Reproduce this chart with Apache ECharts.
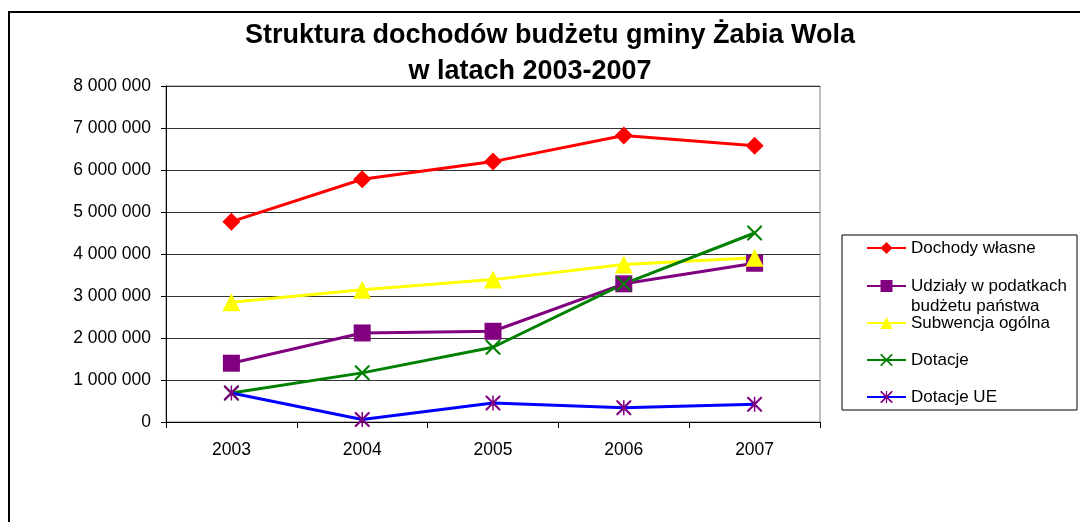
<!DOCTYPE html>
<html>
<head>
<meta charset="utf-8">
<title>Struktura dochodów budżetu gminy Żabia Wola</title>
<script src="https://cdn.jsdelivr.net/npm/echarts@6/dist/echarts.min.js"></script>
<style>
html, body { margin: 0; padding: 0; background: #fff; }
#main { width: 1080px; height: 522px; }
</style>
</head>
<body>
<div id="main"></div>
<script>
var lata = ['2003', '2004', '2005', '2006', '2007'];
var dochodyWlasne = [4770000, 5780000, 6200000, 6820000, 6580000];
var udzialy = [1400000, 2120000, 2160000, 3290000, 3780000];
var subwencja = [2850000, 3150000, 3390000, 3750000, 3910000];
var dotacje = [690000, 1170000, 1780000, 3290000, 4500000];
var dotacjeUE = [690000, 60000, 450000, 340000, 420000];

var nazwy = ['Dochody własne', 'Udziały w podatkach budżetu państwa', 'Subwencja ogólna', 'Dotacje', 'Dotacje UE'];

var FONT = 'Liberation Sans, Arial, sans-serif';
var krzyzyk = 'path://M0,0 L1,0 L10,9 L10,10 L9,10 L0,1 Z M10,0 L10,1 L1,10 L0,10 L0,9 L9,0 Z';
var gwiazdka = 'path://M0,0 L1,0 L10,9 L10,10 L9,10 L0,1 Z M10,0 L10,1 L1,10 L0,10 L0,9 L9,0 Z M4.5,0 L5.5,0 L5.5,10 L4.5,10 Z';

function formatLiczby(v) {
    return String(v).replace(/\B(?=(\d{3})+(?!\d))/g, ' ');
}

function legenda(nazwa, top) {
    return {
        data: [nazwa],
        left: 866,
        top: top,
        padding: 0,
        itemWidth: 39,
        itemHeight: 15,
        itemGap: 0,
        selectedMode: false,
        formatter: function (n) {
            if (n === nazwy[1]) return '\nUdziały w podatkach\nbudżetu państwa';
            return n;
        },
        textStyle: { fontFamily: FONT, fontSize: 17, color: '#000', lineHeight: 20 }
    };
}

var myChart = echarts.init(document.getElementById('main'));

myChart.setOption({
    animation: false,
    title: [
        {
            text: 'Struktura dochodów budżetu gminy Żabia Wola',
            left: 550, top: 22, textAlign: 'center', padding: 0,
            textStyle: { fontFamily: FONT, fontSize: 27, fontWeight: 'bold', color: '#000' }
        },
        {
            text: 'w latach 2003-2007',
            left: 530, top: 58, textAlign: 'center', padding: 0,
            textStyle: { fontFamily: FONT, fontSize: 27, fontWeight: 'bold', color: '#000' }
        }
    ],
    legend: [
        legenda(nazwy[0], 238),
        legenda(nazwy[1], 256),
        legenda(nazwy[2], 313),
        legenda(nazwy[3], 350),
        legenda(nazwy[4], 387)
    ],
    graphic: [
        {
            type: 'rect', silent: true,
            shape: { x: 9, y: 12, width: 1200, height: 700 },
            style: { fill: 'none', stroke: '#000', lineWidth: 2 }
        },
        {
            type: 'rect', silent: true,
            shape: { x: 842, y: 235, width: 235, height: 175 },
            style: { fill: 'none', stroke: '#000', lineWidth: 1 }
        }
    ],
    grid: {
        left: 166, right: 260, top: 86, bottom: 100,
        show: true, borderColor: '#808080', borderWidth: 1
    },
    xAxis: {
        type: 'category',
        data: lata,
        boundaryGap: true,
        axisLine: { lineStyle: { color: '#000', width: 1 } },
        axisTick: { show: true, alignWithLabel: false, length: 6, lineStyle: { color: '#000' } },
        axisLabel: { fontFamily: FONT, fontSize: 17.5, color: '#000', margin: 19 }
    },
    yAxis: {
        type: 'value',
        min: 0, max: 8000000, interval: 1000000,
        axisLine: { show: true, lineStyle: { color: '#000', width: 1 } },
        axisTick: { show: true, length: 5, lineStyle: { color: '#000' } },
        axisLabel: { fontFamily: FONT, fontSize: 17.5, color: '#000', margin: 15, formatter: formatLiczby },
        splitLine: { show: true, lineStyle: { color: '#333', width: 1 } }
    },
    series: [
        {
            name: nazwy[0], type: 'line', data: dochodyWlasne,
            symbol: 'diamond', symbolSize: 18,
            lineStyle: { color: '#ff0000', width: 3 },
            itemStyle: { color: '#ff0000' }
        },
        {
            name: nazwy[1], type: 'line', data: udzialy,
            symbol: 'rect', symbolSize: 17,
            lineStyle: { color: '#800080', width: 3 },
            itemStyle: { color: '#800080' }
        },
        {
            name: nazwy[2], type: 'line', data: subwencja,
            symbol: 'triangle', symbolSize: 18,
            lineStyle: { color: '#ffff00', width: 3 },
            itemStyle: { color: '#ffff00' }
        },
        {
            name: nazwy[3], type: 'line', data: dotacje,
            symbol: krzyzyk, symbolSize: 15,
            lineStyle: { color: '#008000', width: 3 },
            itemStyle: { color: '#008000' }
        },
        {
            name: nazwy[4], type: 'line', data: dotacjeUE,
            symbol: gwiazdka, symbolSize: 15,
            lineStyle: { color: '#0000ff', width: 3 },
            itemStyle: { color: '#800080' }
        }
    ]
});
</script>
</body>
</html>
